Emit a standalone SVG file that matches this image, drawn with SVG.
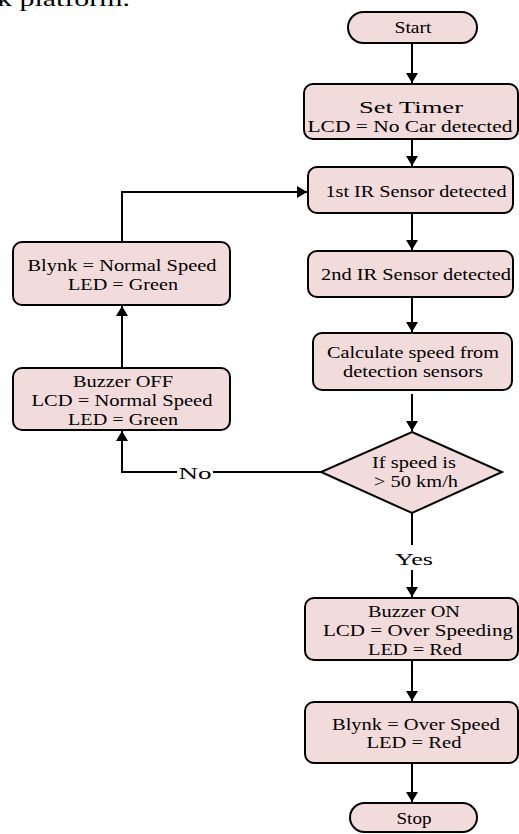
<svg xmlns="http://www.w3.org/2000/svg" width="519" height="834" viewBox="0 0 519 834">
<style>
.box{fill:#f2dcdb;stroke:#000;stroke-width:2}
.t{font-family:"Liberation Serif","Times New Roman",serif;font-size:16.5px;fill:#000;text-anchor:middle}
.c{fill:none;stroke:#000;stroke-width:2}
.lbl{font-family:"Liberation Serif","Times New Roman",serif;font-size:17px;fill:#000;text-anchor:middle}
</style>
<defs>
<marker id="ah" viewBox="0 0 10 12" markerWidth="10" markerHeight="12" refX="10" refY="6" orient="auto" markerUnits="userSpaceOnUse">
<path d="M0,0 L10,6 L0,12 z" fill="#000"/>
</marker>
</defs>
<rect width="519" height="834" fill="#fff"/>
<text x="-3" y="6" font-family="Liberation Serif, serif" font-size="22" textLength="133" lengthAdjust="spacingAndGlyphs">k platform.</text>

<g id="connectors">
<path class="c" d="M412,43 V83" marker-end="url(#ah)"/>
<path class="c" d="M412,139 V166" marker-end="url(#ah)"/>
<path class="c" d="M412,213 V250" marker-end="url(#ah)"/>
<path class="c" d="M412,297 V332" marker-end="url(#ah)"/>
<path class="c" d="M412,394 V431" marker-end="url(#ah)"/>
<path class="c" d="M412,513 V545"/>
<path class="c" d="M412,570 V597" marker-end="url(#ah)"/>
<path class="c" d="M412,660 V701" marker-end="url(#ah)"/>
<path class="c" d="M412,763 V802" marker-end="url(#ah)"/>
<path class="c" d="M321,472 H213"/>
<path class="c" d="M177,472 H122 V431" marker-end="url(#ah)"/>
<path class="c" d="M122,368 V306" marker-end="url(#ah)"/>
<path class="c" d="M122,242 V192 H307" marker-end="url(#ah)"/>
<text class="lbl" x="414" y="565" textLength="38" lengthAdjust="spacingAndGlyphs">Yes</text>
<text class="lbl" x="195" y="479" textLength="33" lengthAdjust="spacingAndGlyphs">No</text>
</g>

<g id="start">
<rect class="box" x="348" y="12" width="129" height="31" rx="15.5"/>
<text class="t" x="413" y="33" textLength="37" lengthAdjust="spacingAndGlyphs">Start</text>
</g>
<g id="set-timer">
<rect class="box" x="304" y="84" width="214" height="55" rx="9"/>
<text class="t" x="411" y="113" textLength="104" lengthAdjust="spacingAndGlyphs">Set Timer</text>
<text class="t" x="410" y="132" textLength="205" lengthAdjust="spacingAndGlyphs">LCD = No Car detected</text>
</g>
<g id="ir1">
<rect class="box" x="308" y="167" width="205" height="46" rx="9"/>
<text class="t" x="416" y="197" textLength="181" lengthAdjust="spacingAndGlyphs">1st IR Sensor detected</text>
</g>
<g id="ir2">
<rect class="box" x="308" y="251" width="205" height="46" rx="9"/>
<text class="t" x="416" y="280" textLength="190" lengthAdjust="spacingAndGlyphs">2nd IR Sensor detected</text>
</g>
<g id="calculate">
<rect class="box" x="313" y="333" width="199" height="57" rx="9"/>
<text class="t" x="413" y="358" textLength="172" lengthAdjust="spacingAndGlyphs">Calculate speed from</text>
<text class="t" x="413" y="377" textLength="140" lengthAdjust="spacingAndGlyphs">detection sensors</text>
</g>
<g id="decision">
<path class="box" d="M412,432 L502,472 L412,513 L321,472 Z"/>
<text class="t" x="414" y="468" font-size="16" textLength="84" lengthAdjust="spacingAndGlyphs">If speed is</text>
<text class="t" x="416" y="487" font-size="16" textLength="84" lengthAdjust="spacingAndGlyphs">&gt; 50 km/h</text>
</g>
<g id="buzzer-on">
<rect class="box" x="305" y="598" width="213" height="62" rx="9"/>
<text class="t" x="414" y="617" textLength="92" lengthAdjust="spacingAndGlyphs">Buzzer ON</text>
<text class="t" x="418" y="636" textLength="190" lengthAdjust="spacingAndGlyphs">LCD = Over Speeding</text>
<text class="t" x="415" y="655" textLength="94" lengthAdjust="spacingAndGlyphs">LED = Red</text>
</g>
<g id="blynk-over">
<rect class="box" x="305" y="702" width="213" height="61" rx="9"/>
<text class="t" x="416" y="730" textLength="168" lengthAdjust="spacingAndGlyphs">Blynk = Over Speed</text>
<text class="t" x="414" y="748" textLength="95" lengthAdjust="spacingAndGlyphs">LED = Red</text>
</g>
<g id="stop">
<rect class="box" x="350" y="803" width="127" height="29" rx="14.5"/>
<text class="t" x="414" y="824" textLength="35" lengthAdjust="spacingAndGlyphs">Stop</text>
</g>
<g id="blynk-normal">
<rect class="box" x="13" y="242" width="217" height="63" rx="9"/>
<text class="t" x="122" y="271" textLength="189" lengthAdjust="spacingAndGlyphs">Blynk = Normal Speed</text>
<text class="t" x="123" y="290" textLength="110" lengthAdjust="spacingAndGlyphs">LED = Green</text>
</g>
<g id="buzzer-off">
<rect class="box" x="13" y="368" width="217" height="62" rx="9"/>
<text class="t" x="123" y="387" textLength="100" lengthAdjust="spacingAndGlyphs">Buzzer OFF</text>
<text class="t" x="122" y="406" textLength="181" lengthAdjust="spacingAndGlyphs">LCD = Normal Speed</text>
<text class="t" x="123" y="425" textLength="110" lengthAdjust="spacingAndGlyphs">LED = Green</text>
</g>
</svg>
